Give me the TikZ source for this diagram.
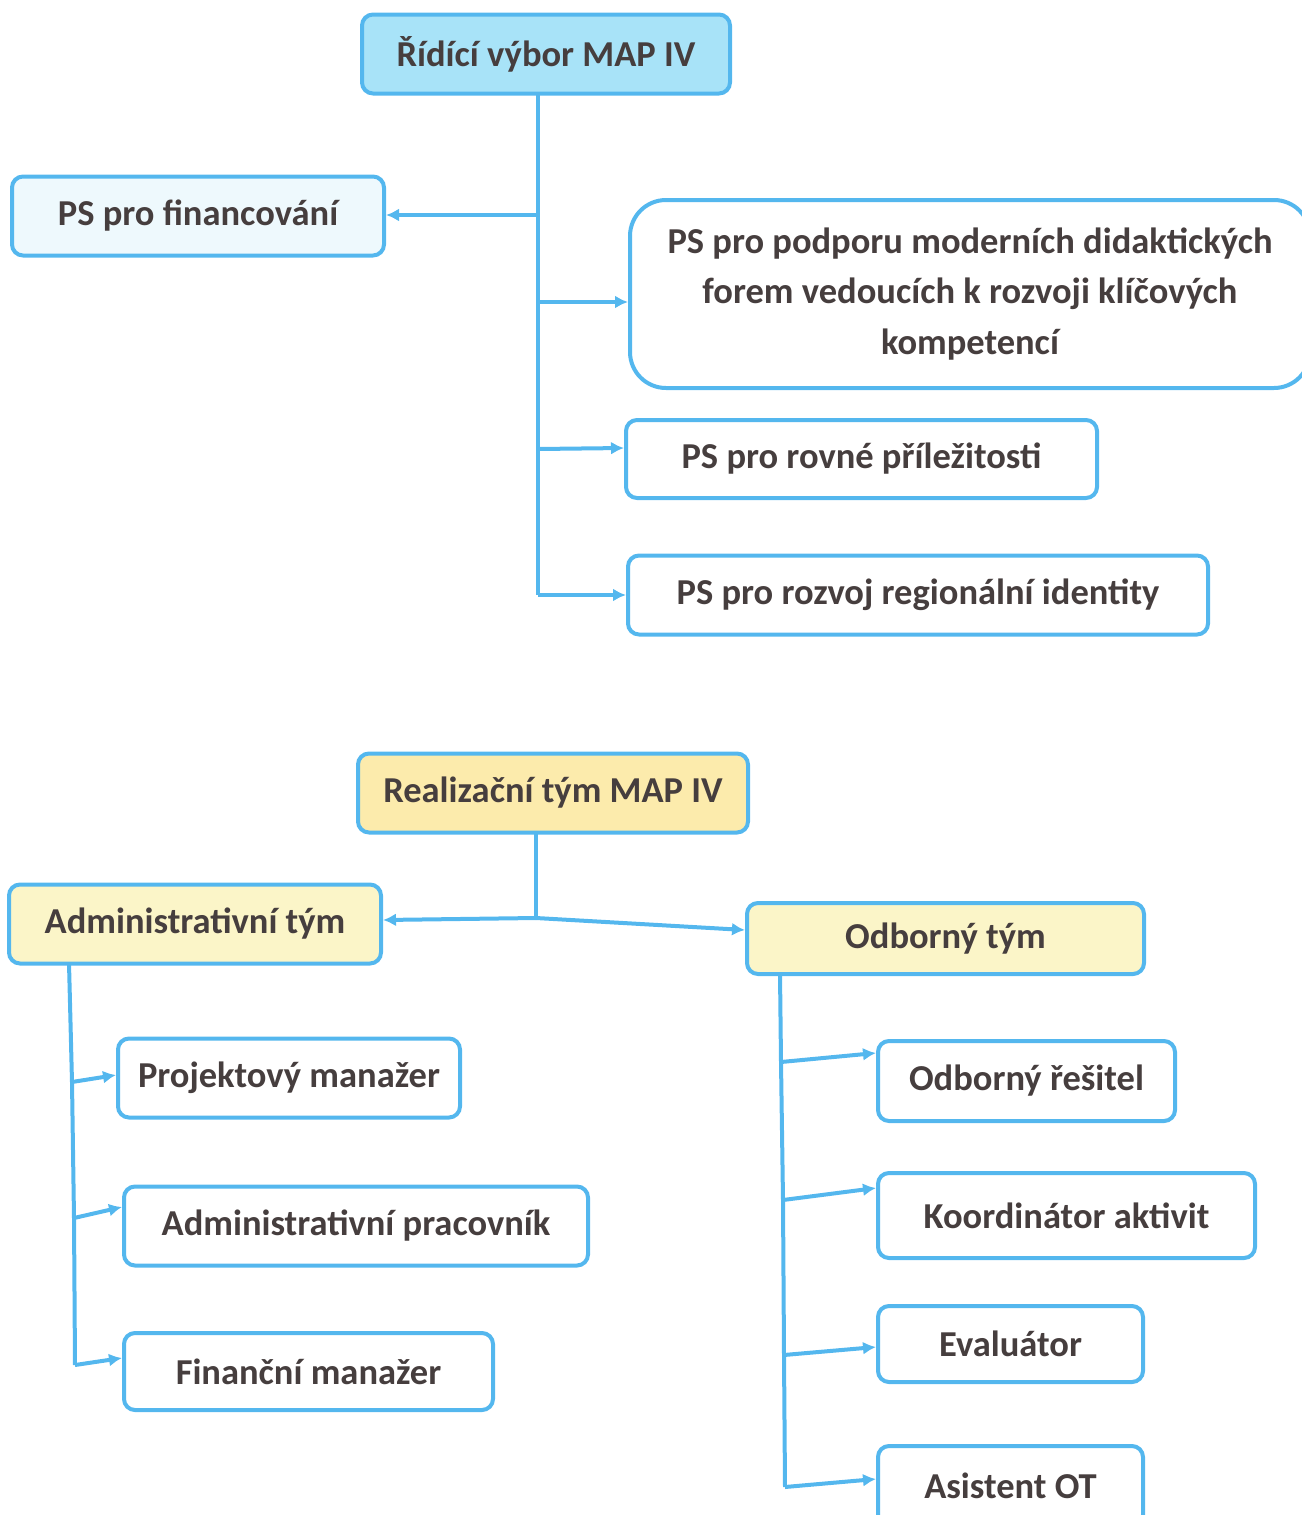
\documentclass[tikz,border=0pt]{standalone}
\usepackage{fontspec}
\setmainfont{Carlito}
\usetikzlibrary{arrows.meta}
\definecolor{lineblue}{RGB}{84,183,238}
\definecolor{topfill}{RGB}{168,227,248}
\definecolor{palefill}{RGB}{238,249,253}
\definecolor{realfill}{RGB}{252,235,172}
\definecolor{teamfill}{RGB}{251,245,200}
\definecolor{txt}{RGB}{70,62,62}
\begin{document}
\begin{tikzpicture}[x=1pt,y=-1pt,
  box/.style={draw=lineblue,line width=4pt,rounded corners=11pt,align=center,
    text=txt,font=\bfseries\fontsize{36.5}{50.5}\selectfont,inner sep=0pt},
  conn/.style={draw=lineblue,line width=4pt},
  arr/.style={conn,-{Latex[length=13pt,width=13pt]}}]
\useasboundingbox (0,0) rectangle (1301,1515);
% top part
\node[box,fill=topfill,minimum width=368pt,minimum height=79pt] (rid) at (546,54) {Řídící výbor MAP IV};
\node[box,fill=palefill,minimum width=372pt,minimum height=79pt] (fin) at (198,216) {PS pro financování};
\node[box,fill=white,rounded corners=36pt,minimum width=680pt,minimum height=188pt] (pod) at (970,294) {PS pro podporu moderních didaktických\\forem vedoucích k rozvoji klíčových\\kompetencí};
\node[box,fill=white,minimum width=471pt,minimum height=78pt] (rov) at (861.5,459) {PS pro rovné příležitosti};
\node[box,fill=white,minimum width=580pt,minimum height=79pt] (roz) at (918,595) {PS pro rozvoj regionální identity};
\coordinate (t0) at (538,93);
\coordinate (t1) at (538,215);
\coordinate (t2) at (538,302);
\coordinate (t3) at (538,449);
\coordinate (t4) at (538,595);
\draw[conn] (t0) -- (t4);
\draw[arr] (t1) -- (fin.east |- t1);
\draw[arr] (t2) -- (pod.west |- t2);
\draw[arr] (t3) -- (rov.west |- 0,448);
\draw[arr] (t4) -- (roz.west |- t4);
% bottom part
\node[box,fill=realfill,minimum width=390pt,minimum height=79pt] (real) at (553,793) {Realizační tým MAP IV};
\node[box,fill=teamfill,minimum width=372pt,minimum height=79pt] (adm) at (195,924) {Administrativní tým};
\node[box,fill=teamfill,minimum width=397pt,minimum height=71pt] (odb) at (945.5,938.5) {Odborný tým};
\coordinate (b0) at (536,832);
\coordinate (b1) at (536,918);
\draw[conn] (b0) -- (b1);
\draw[arr] (b1) -- (adm.east |- 0,920);
\draw[arr] (b1) -- (odb.west |- 0,930);
% administrative team
\node[box,fill=white,minimum width=342pt,minimum height=79pt] (pm) at (289,1078) {Projektový manažer};
\node[box,fill=white,minimum width=464pt,minimum height=79pt] (ap) at (356,1226) {Administrativní pracovník};
\node[box,fill=white,minimum width=369pt,minimum height=77pt] (fm) at (308.5,1371.5) {Finanční manažer};
\coordinate (a0) at (69,963);
\coordinate (a1) at (72,1082);
\coordinate (a2) at (74,1218);
\coordinate (a3) at (75,1365);
\draw[conn] (a0) -- (a1) -- (a2) -- (a3);
\draw[arr] (a1) -- (pm.west |- 0,1075);
\draw[arr] (a2) -- (ap.west |- 0,1207);
\draw[arr] (a3) -- (fm.west |- 0,1358);
% expert team
\node[box,fill=white,minimum width=297pt,minimum height=80pt] (res) at (1026.5,1081) {Odborný řešitel};
\node[box,fill=white,minimum width=377pt,minimum height=85pt] (koo) at (1066.5,1215.5) {Koordinátor aktivit};
\node[box,fill=white,minimum width=265pt,minimum height=76pt] (eva) at (1010.5,1344) {Evaluátor};
\node[box,fill=white,minimum width=265pt,minimum height=80pt] (asi) at (1010.5,1486) {Asistent OT};
\coordinate (o0) at (780,973);
\coordinate (o1) at (781,1062);
\coordinate (o2) at (783,1200);
\coordinate (o3) at (784,1355);
\coordinate (o4) at (785,1487);
\draw[conn] (o0) -- (o1) -- (o2) -- (o3) -- (o4);
\draw[arr] (o1) -- (res.west |- 0,1053);
\draw[arr] (o2) -- (koo.west |- 0,1188);
\draw[arr] (o3) -- (eva.west |- 0,1347);
\draw[arr] (o4) -- (asi.west |- 0,1479);
\end{tikzpicture}
\end{document}
